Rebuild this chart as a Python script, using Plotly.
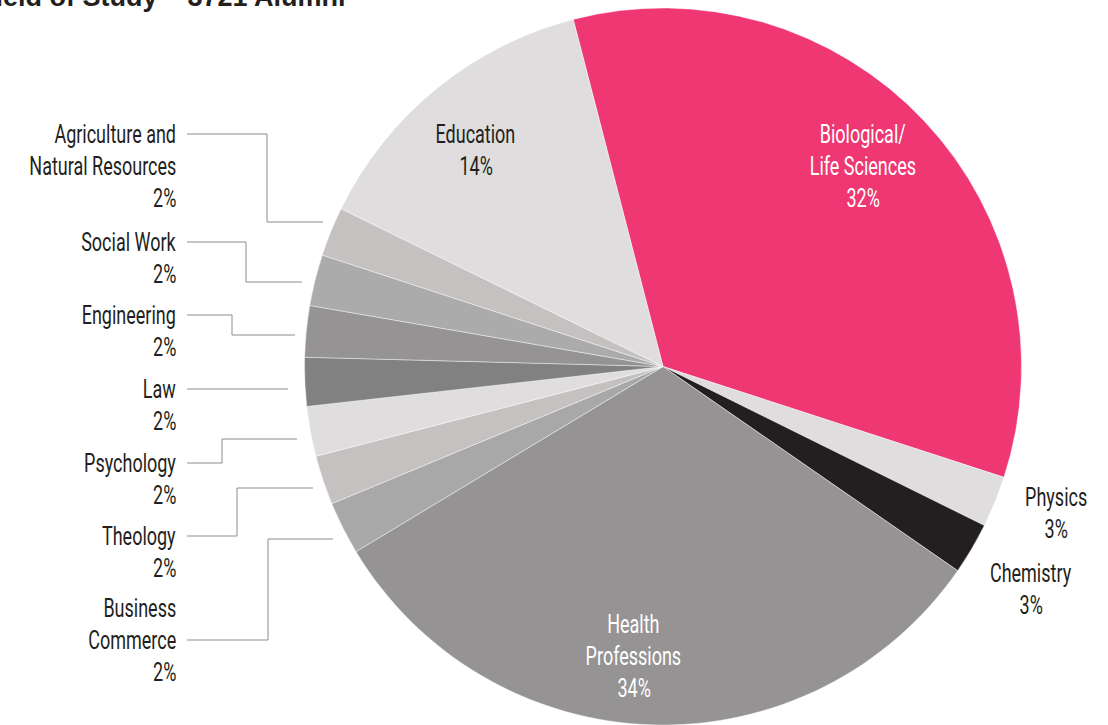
import plotly.graph_objects as go
import math

# ---------------- data ----------------
title_text = "Field of Study – 3721 Alumni"

categories = [
    "Biological/Life Sciences", "Physics", "Chemistry", "Health Professions",
    "Business Commerce", "Theology", "Psychology", "Law", "Engineering",
    "Social Work", "Agriculture and Natural Resources", "Education",
]
# slice shares (angles), in percent
shares = [34.03, 2.31, 2.33, 31.72, 2.39, 2.22, 2.25, 2.19, 2.31, 2.31, 2.22, 13.72]
# percentages as printed on the chart
pct_labels = ["32%", "3%", "3%", "34%", "2%", "2%", "2%", "2%", "2%", "2%", "2%", "14%"]
label_lines = [
    ["Biological/", "Life Sciences"], ["Physics"], ["Chemistry"], ["Health", "Professions"],
    ["Business", "Commerce"], ["Theology"], ["Psychology"], ["Law"], ["Engineering"],
    ["Social Work"], ["Agriculture and", "Natural Resources"], ["Education"],
]
colors = ["#EE3773", "#DFDDDE", "#231F20", "#959394", "#A9A8A8", "#C4C1C0",
          "#DFDDDE", "#818181", "#959394", "#ABABAB", "#C4C1C0", "#DFDDDE"]

# ---------------- layout / style ----------------
W, H = 1108, 725
TOP = 8
CX = 663
R = (H - TOP) / 2
CY = TOP + R
START = -14.5
LINE = 32
FONT = "Roboto, DejaVu Sans Condensed, sans-serif"
TXT = "#231F20"
FS = 25
SQUEEZE = 0.72

fig = go.Figure()
fig.add_trace(go.Pie(
    labels=categories, values=shares, sort=False, direction="clockwise",
    rotation=START, textinfo="none", hoverinfo="label+percent",
    marker=dict(colors=colors, line=dict(color="rgba(255,255,255,0.7)", width=0.6)),
    domain=dict(x=[(CX - R) / W, (CX + R) / W], y=[0, 1]),
    showlegend=False,
))
fig.add_trace(go.Scatter(x=[None], y=[None], mode="markers", showlegend=False, hoverinfo="skip"))

total = sum(shares)
mids = []
acc = START
for v in shares:
    span = 360 * v / total
    mids.append(acc + span / 2)
    acc += span

annotations = []


def add_lines(lines, x, y_first, color, xanchor):
    for k, t in enumerate(lines):
        annotations.append(dict(
            x=x, y=y_first + k * LINE, xref="x", yref="y", text=t, showarrow=False,
            xanchor=xanchor, yanchor="middle", align=xanchor if xanchor != "center" else "center",
            font=dict(family=FONT, size=FS, color=color),
        ))


# labels placed around slices (radius factor, angle nudge, colour)
polar_style = {
    0: (0.788, -1.7, "white"),
    3: (0.814, 3.9, "white"),
    11: (0.796, -1.75, TXT),
    1: (1.17, -1.6, TXT),
    2: (1.20, 0.7, TXT),
}
for i, (rf, dth, col) in polar_style.items():
    a = math.radians(mids[i] + dth)
    x = CX + rf * R * math.sin(a)
    y = CY - rf * R * math.cos(a)
    lines = label_lines[i] + [pct_labels[i]]
    y0 = y - (len(lines) - 1) / 2 * LINE
    add_lines(lines, x, y0, col, "center")

# left call-outs: (first line y, hooked line index, elbow x, end y, end x)
callouts = {
    10: (134, 0, 267, 222, 323),
    9: (242, 0, 246, 282, 302),
    8: (315, 0, 232, 335, 295),
    7: (389, 0, None, 389, 288),
    6: (463, 0, 222, 439, 297),
    5: (536, 0, 237, 488, 313),
    4: (608, 1, 268, 539, 333),
}
shapes = []
for i, (y0, hook, ex, ey, endx) in callouts.items():
    lines = label_lines[i] + [pct_labels[i]]
    add_lines(lines, 178, y0, TXT, "right")
    hy = y0 + hook * LINE
    if ex is None:
        path = f"M 187,{hy} H {endx}"
    else:
        path = f"M 187,{hy} H {ex} V {ey} H {endx}"
    shapes.append(dict(type="path", path=path, xref="x", yref="y",
                       line=dict(color="#8C8C8C", width=1)))

annotations.append(dict(
    x=0, y=1, xref="paper", yref="paper", xanchor="left", yanchor="bottom",
    xshift=-23, yshift=-6, showarrow=False, text=f"<b>{title_text}</b>",
    font=dict(family="Liberation Sans, Arial, sans-serif", size=27, color=TXT),
))

fig.update_layout(
    width=W, height=H, margin=dict(l=0, r=0, t=TOP, b=0),
    paper_bgcolor="white", plot_bgcolor="rgba(0,0,0,0)",
    xaxis=dict(range=[0, W], visible=False, fixedrange=True),
    yaxis=dict(range=[H, TOP], visible=False, fixedrange=True),
    annotations=annotations, shapes=shapes, showlegend=False,
)

post = """
document.body.style.margin = '0';
document.body.style.overflow = 'hidden';
var gd = document.getElementById('{plot_id}');
function squeeze() {
  gd.querySelectorAll('text.annotation-text').forEach(function (t) {
    if (t.textContent.indexOf('Study') >= 0) return;
    var anc = t.getAttribute('text-anchor');
    t.style.transformBox = 'fill-box';
    t.style.transformOrigin = anc === 'end' ? 'right center' : (anc === 'start' ? 'left center' : 'center center');
    t.style.transform = 'scaleX(%s)';
  });
}
squeeze();
gd.on('plotly_afterplot', squeeze);
""" % SQUEEZE
fig.write_html("out.html", post_script=post, config={"displayModeBar": False})
